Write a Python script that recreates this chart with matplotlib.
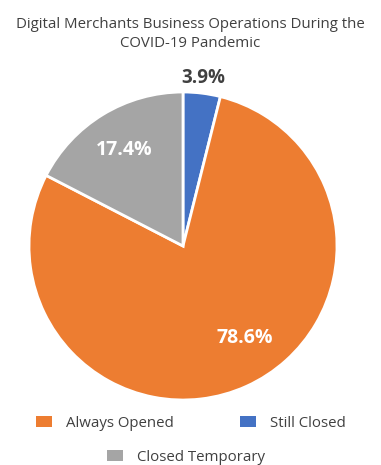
import matplotlib
matplotlib.use("Agg")
import matplotlib.pyplot as plt
from matplotlib.patches import Patch
import numpy as np

categories = ["Still Closed", "Always Opened", "Closed Temporary"]
values = [3.9, 78.6, 17.4]
colors = ["#4472C4", "#ED7D31", "#A5A5A5"]
title = "Digital Merchants Business Operations During the\nCOVID-19 Pandemic"

plt.rcParams['font.family'] = ['Open Sans', 'DejaVu Sans']
W, H = 381, 465
cx, cy, r = 183, 246, 154
fig = plt.figure(figsize=(W/100, H/100), dpi=100)
ax = fig.add_axes([(cx - r)/W, 1 - (cy + r)/H, 2*r/W, 2*r/H])

wedges, texts, autotexts = ax.pie(
    values, colors=colors, startangle=90, counterclock=False,
    autopct=lambda p: f"{p:.1f}%", pctdistance=0.73,
    wedgeprops=dict(edgecolor="white", linewidth=2),
)
ax.set_xlim(-1, 1)
ax.set_ylim(-1, 1)
for i, t in enumerate(autotexts):
    t.set_text(f"{values[i]:.1f}%")
    t.set_fontsize(14)
    t.set_fontweight("bold")
    t.set_color("white")
    t.set_clip_on(False)
# small slice label outside
autotexts[0].set_color("#404040")
autotexts[0].set_fontsize(13.5)
ang = np.deg2rad((wedges[0].theta1 + wedges[0].theta2) / 2)
autotexts[0].set_position((1.10 * np.cos(ang), 1.10 * np.sin(ang)))
# large slice label shifted toward the right
ang1 = np.deg2rad(-56)
autotexts[1].set_position((0.72 * np.cos(ang1), 0.72 * np.sin(ang1)))
ax.set_aspect("equal")

fig.text(0.5, 1 - 34/H, title, ha="center", va="center", fontsize=10.8,
         color="#404040", linespacing=1.3)

h = [Patch(facecolor=c) for c in colors]
kw = dict(frameon=False, fontsize=10.8, handlelength=1.1, handleheight=0.75,
          handletextpad=0.9, loc="center")
leg1 = fig.legend([h[1], h[0]], [categories[1], categories[0]], ncol=2,
                  bbox_to_anchor=(0.5, 1 - 423/H), columnspacing=4.4, **kw)
leg2 = fig.legend([h[2]], [categories[2]], bbox_to_anchor=(0.487, 1 - 457/H), **kw)
for leg in (leg1, leg2):
    for t in leg.get_texts():
        t.set_color("#404040")

fig.savefig("out.png", dpi=100)
